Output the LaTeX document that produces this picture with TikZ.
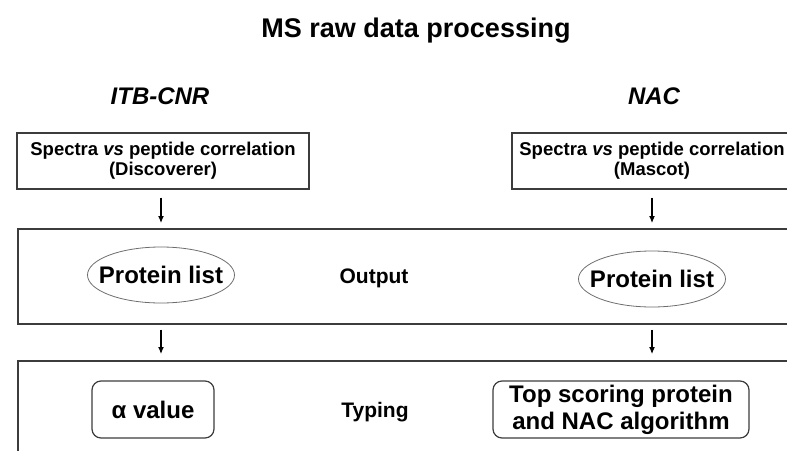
\documentclass[tikz,border=0pt]{standalone}
\usepackage{fontspec}
\setmainfont{Liberation Sans}
\usetikzlibrary{shapes.geometric,arrows.meta}
\definecolor{edge}{RGB}{60,60,60}

\begin{document}
\begin{tikzpicture}[x=1pt,y=-1pt,
  specbox/.style={draw=edge,line width=1.3pt,minimum width=292pt,minimum height=56pt,align=center,inner sep=0pt,font=\fontsize{18.5}{20}\selectfont\bfseries},
  band/.style={draw=edge,line width=1.5pt,inner sep=0pt,anchor=north west,minimum width=900pt},
  oval/.style={draw=edge!75,ellipse,line width=0.8pt,inner xsep=-12pt,inner ysep=0pt,minimum width=147pt,minimum height=56pt,font=\fontsize{24}{28}\selectfont\bfseries},
  result/.style={draw=edge,rounded corners=9pt,line width=1.2pt,minimum height=57pt,align=center,inner sep=0pt,font=\fontsize{24}{27}\selectfont\bfseries},
  lab/.style={anchor=base,font=\fontsize{21}{24}\selectfont\bfseries},
  head/.style={anchor=base,font=\fontsize{24}{28}\selectfont\bfseries\itshape},
  flow/.style={-{Latex[length=7pt,width=6pt]},line width=1.1pt}]
\useasboundingbox (0,0) rectangle (787,450);
\clip (0,0) rectangle (787,450);

\node[anchor=base,font=\fontsize{27}{32}\selectfont\bfseries] (title) at (416,37) {MS raw data processing};
\node[head] (itb) at (160,104) {ITB-CNR};
\node[head] (nac) at (654,104) {NAC};

\node[specbox] (spec1) at (163,161) {Spectra \textit{vs} peptide correlation\\(Discoverer)};
\node[specbox,minimum width=280pt] (spec2) at (652,161) {Spectra \textit{vs} peptide correlation\\(Mascot)};

% output row
\node[band,minimum height=95pt] (outband) at (17,228) {};
\node[oval] (pl1) at (161,275) {Protein list};
\node[oval] (pl2) at (652,279) {Protein list};
\node[lab] (out) at (374,283) {Output};

% typing row
\node[band,minimum height=150pt] (typband) at (17,360) {};
\node[result,minimum width=122pt] (alpha) at (153,409.5) {α value};
\node[result,minimum width=256pt] (top) at (621,409.5) {Top scoring protein\\and NAC algorithm};
\node[lab] (typ) at (375,417) {Typing};

\draw[flow, shorten <=8pt, shorten >=5pt] (pl1 |- spec1.south) -- (pl1 |- outband.north);
\draw[flow, shorten <=8pt, shorten >=5pt] (pl2 |- spec2.south) -- (pl2 |- outband.north);
\draw[flow, shorten <=5pt, shorten >=6pt] (pl1 |- outband.south) -- (pl1 |- typband.north);
\draw[flow, shorten <=5pt, shorten >=6pt] (pl2 |- outband.south) -- (pl2 |- typband.north);

\end{tikzpicture}
\end{document}
